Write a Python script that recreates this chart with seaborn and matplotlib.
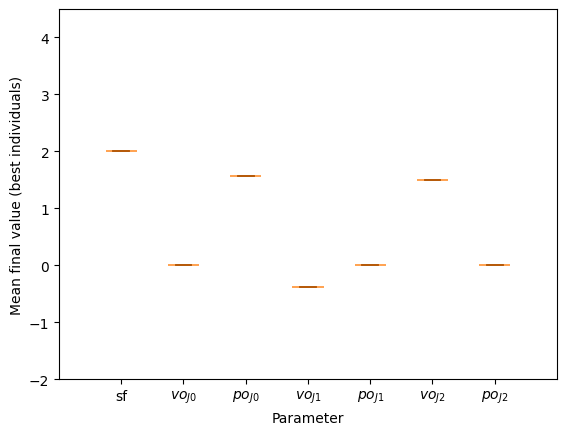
import pandas as pd
import numpy as np
import matplotlib.pyplot as plt
import seaborn as sns

params = ["sf", "$vo_{J0}$", "$po_{J0}$", "$vo_{J1}$", "$po_{J1}$", "$vo_{J2}$", "$po_{J2}$"]
final_means = [2.0, 0.0, 1.57, -0.39, 0.0, 1.5, 0.0]
n_runs = 5

df = pd.DataFrame({
    "Parameter": np.repeat(params, n_runs),
    "value": np.repeat(final_means, n_runs),
})

fig, ax = plt.subplots(figsize=(5.65, 4.35), dpi=100)
# all runs agree, so each box collapses to a flat line: median on top, caps below
sns.boxplot(data=df, x="Parameter", y="value", ax=ax, width=0.5,
            color="white", linecolor="black", linewidth=1,
            boxprops=dict(edgecolor="none"),
            medianprops=dict(color="#ff7f0e", linewidth=1.2, alpha=0.85, zorder=5),
            capprops=dict(color="black", linewidth=1.2, zorder=4),
            whiskerprops=dict(linewidth=0),
            flierprops=dict(marker="o"))

ax.set_xlim(-1, 7)
ax.set_ylim(-2, 4.5)
ax.set_yticks([-2, -1, 0, 1, 2, 3, 4])
ax.set_xlabel("Parameter")
ax.set_ylabel("Mean final value (best individuals)")

plt.subplots_adjust(left=0.1044, right=0.9858, top=0.977, bottom=0.1264)
plt.savefig("out.png", dpi=100)
